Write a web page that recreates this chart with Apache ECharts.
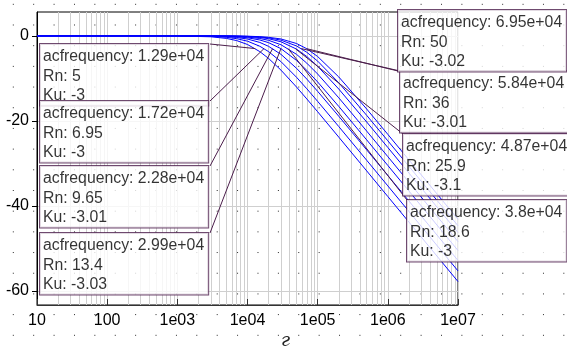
<!DOCTYPE html>
<html>
<head>
<meta charset="utf-8">
<script src="https://cdn.jsdelivr.net/npm/echarts@6/dist/echarts.min.js"></script>
<style>
  html, body { margin: 0; padding: 0; background: #fff; }
  #chart {
    width: 567px;
    height: 349px;
    background-image: radial-gradient(circle, #222 0, #222 0.5px, transparent 0.9px);
    background-size: 20.4px 20.7px;
    background-position: 3.1px 14.65px;
  }
</style>
</head>
<body>
<div id="chart"></div>
<script>
// frequency grid the curves were read at (Hz)
var freqs = [10, 1000, 3000, 5000, 7000, 10000, 15000, 20000, 30000, 50000, 70000, 100000, 200000, 500000, 1000000, 10000000];

// Ku (dB) for each Rn
var kuRn5   = [0, -0.03, -0.23, -0.61, -1.12, -2.04, -3.72, -5.32, -8.07, -12.05, -14.84, -17.86, -23.83, -31.77, -37.79, -57.79];
var kuRn695 = [0, -0.01, -0.13, -0.35, -0.67, -1.26, -2.46, -3.72, -6.07, -9.75, -12.45, -15.42, -21.34, -29.27, -35.29, -55.29];
var kuRn965 = [0, -0.01, -0.07, -0.20, -0.39, -0.76, -1.56, -2.48, -4.36, -7.64, -10.18, -13.06, -18.92, -26.83, -32.84, -52.84];
var kuRn134 = [0, 0, -0.04, -0.12, -0.23, -0.46, -0.98, -1.61, -3.02, -5.79, -8.12, -10.86, -16.60, -24.48, -30.49, -50.49];
var kuRn186 = [0, 0, -0.03, -0.07, -0.15, -0.29, -0.63, -1.06, -2.10, -4.36, -6.43, -8.99, -14.58, -22.41, -28.41, -48.40];
var kuRn259 = [0, 0, -0.02, -0.05, -0.09, -0.18, -0.39, -0.68, -1.40, -3.13, -4.87, -7.17, -12.52, -20.27, -26.26, -46.25];
var kuRn36  = [0, 0, -0.01, -0.03, -0.06, -0.13, -0.28, -0.48, -1.02, -2.39, -3.87, -5.95, -11.05, -18.71, -24.69, -44.67];
var kuRn50  = [0, 0, -0.01, -0.02, -0.04, -0.09, -0.20, -0.35, -0.74, -1.81, -3.04, -4.87, -9.68, -17.22, -23.18, -43.16];
var curves = [kuRn5, kuRn695, kuRn965, kuRn134, kuRn186, kuRn259, kuRn36, kuRn50];

// -3 dB markers
var markFreq = [12900, 17200, 22800, 29900, 38000, 48700, 58400, 69500];
var markFreqText = ['1.29e+04', '1.72e+04', '2.28e+04', '2.99e+04', '3.8e+04', '4.87e+04', '5.84e+04', '6.95e+04'];
var markRn = ['5', '6.95', '9.65', '13.4', '18.6', '25.9', '36', '50'];
var markKu = [-3, -3, -3.01, -3.03, -3, -3.1, -3.01, -3.02];

// axis ticks
var xTickLabels = ['10', '100', '1e03', '1e04', '1e05', '1e06', '1e07'];
var yTicks = [0, -20, -40, -60];

// annotation box top-left corners and where the leader line meets the box (px)
var boxPos = [[40, 44], [40, 101], [40, 166], [40, 233], [407, 200], [403, 134], [400, 71], [398, 10]];
var leaderEnd = [[210, 44], [210, 101], [210, 166], [210, 233], [407, 200], [403, 134], [400, 71], [398, 71]];

var font = 'Liberation Sans, Arial, sans-serif';
var purple = '#4b1d4b';

var chart = echarts.init(document.getElementById('chart'), null, { renderer: 'canvas' });

// grid lines
var gridLines = [];
for (var d = 10; d < 1e7; d *= 10) {
  for (var k = 1; k <= 9; k++) gridLines.push({ xAxis: k * d });
}
gridLines.push({ xAxis: 1e7 });
yTicks.forEach(function (v) { gridLines.push({ yAxis: v }); });

var series = [{
  type: 'line',
  data: [],
  z: 1,
  silent: true,
  markLine: {
    z: 0,
    silent: true,
    symbol: 'none',
    label: { show: false },
    emphasis: { disabled: true },
    lineStyle: { color: '#cfcfcf', width: 1, type: 'solid' },
    data: gridLines
  }
}];

curves.forEach(function (ku, i) {
  series.push({
    type: 'line',
    name: 'Rn ' + markRn[i],
    z: 2,
    showSymbol: false,
    lineStyle: { color: '#0000ff', width: 1 },
    data: freqs.map(function (f, j) { return [f, ku[j]]; })
  });
});

series.push({
  type: 'scatter',
  z: 4,
  symbolSize: 1,
  itemStyle: { color: 'rgba(0,0,0,0)' },
  data: markFreq.map(function (f, i) { return [f, markKu[i]]; }),
  label: {
    show: true,
    formatter: function (p) {
      var i = p.dataIndex;
      return 'acfrequency: ' + markFreqText[i] + '\nRn: ' + markRn[i] + '\nKu: ' + markKu[i];
    },
    color: '#000',
    fontFamily: font,
    fontSize: 15.8,
    lineHeight: 19.5,
    backgroundColor: '#fff',
    borderColor: purple,
    borderWidth: 1,
    padding: [3, 4, 0, 3]
  },
  labelLayout: function (p) {
    var b = boxPos[p.dataIndex];
    return { x: b[0], y: b[1], align: 'left', verticalAlign: 'top' };
  },
  markLine: {
    z: 3,
    silent: true,
    symbol: 'none',
    label: { show: false },
    emphasis: { disabled: true },
    lineStyle: { color: purple, width: 1, type: 'solid' },
    data: markFreq.map(function (f, i) {
      return [{ coord: [f, markKu[i]] }, { x: leaderEnd[i][0], y: leaderEnd[i][1] }];
    })
  }
});

chart.setOption({
  animation: false,
  title: {
    text: 'г',
    left: 281,
    top: 332,
    padding: 0,
    textStyle: { fontFamily: 'DejaVu Serif', fontStyle: 'italic', fontWeight: 'normal', fontSize: 18, color: '#222' }
  },
  grid: {
    left: 37,
    right: 109,
    top: 12,
    bottom: 44,
    show: true,
    borderColor: '#000',
    borderWidth: 1,
    backgroundColor: 'transparent'
  },
  xAxis: {
    type: 'log',
    logBase: 10,
    min: 10,
    max: 1e7,
    splitNumber: 6,
    splitLine: { show: false },
    axisLine: { onZero: false, lineStyle: { color: '#333', width: 1 } },
    axisTick: { inside: true, length: 6, lineStyle: { color: '#333' } },
    axisLabel: {
      color: '#000',
      fontFamily: font,
      fontSize: 16,
      margin: 8,
      showMinLabel: true,
      showMaxLabel: true,
      formatter: function (v) {
        return xTickLabels[Math.round(Math.log10(v)) - 1];
      }
    }
  },
  yAxis: {
    type: 'value',
    min: -63.3,
    max: 5.6,
    splitLine: { show: false },
    axisLine: { show: true, lineStyle: { color: '#000', width: 1 } },
    axisTick: { show: true, length: 5, customValues: yTicks, lineStyle: { color: '#000' } },
    axisLabel: { color: '#000', fontFamily: font, fontSize: 16, margin: 8, customValues: yTicks }
  },
  series: series
});
</script>
</body>
</html>
